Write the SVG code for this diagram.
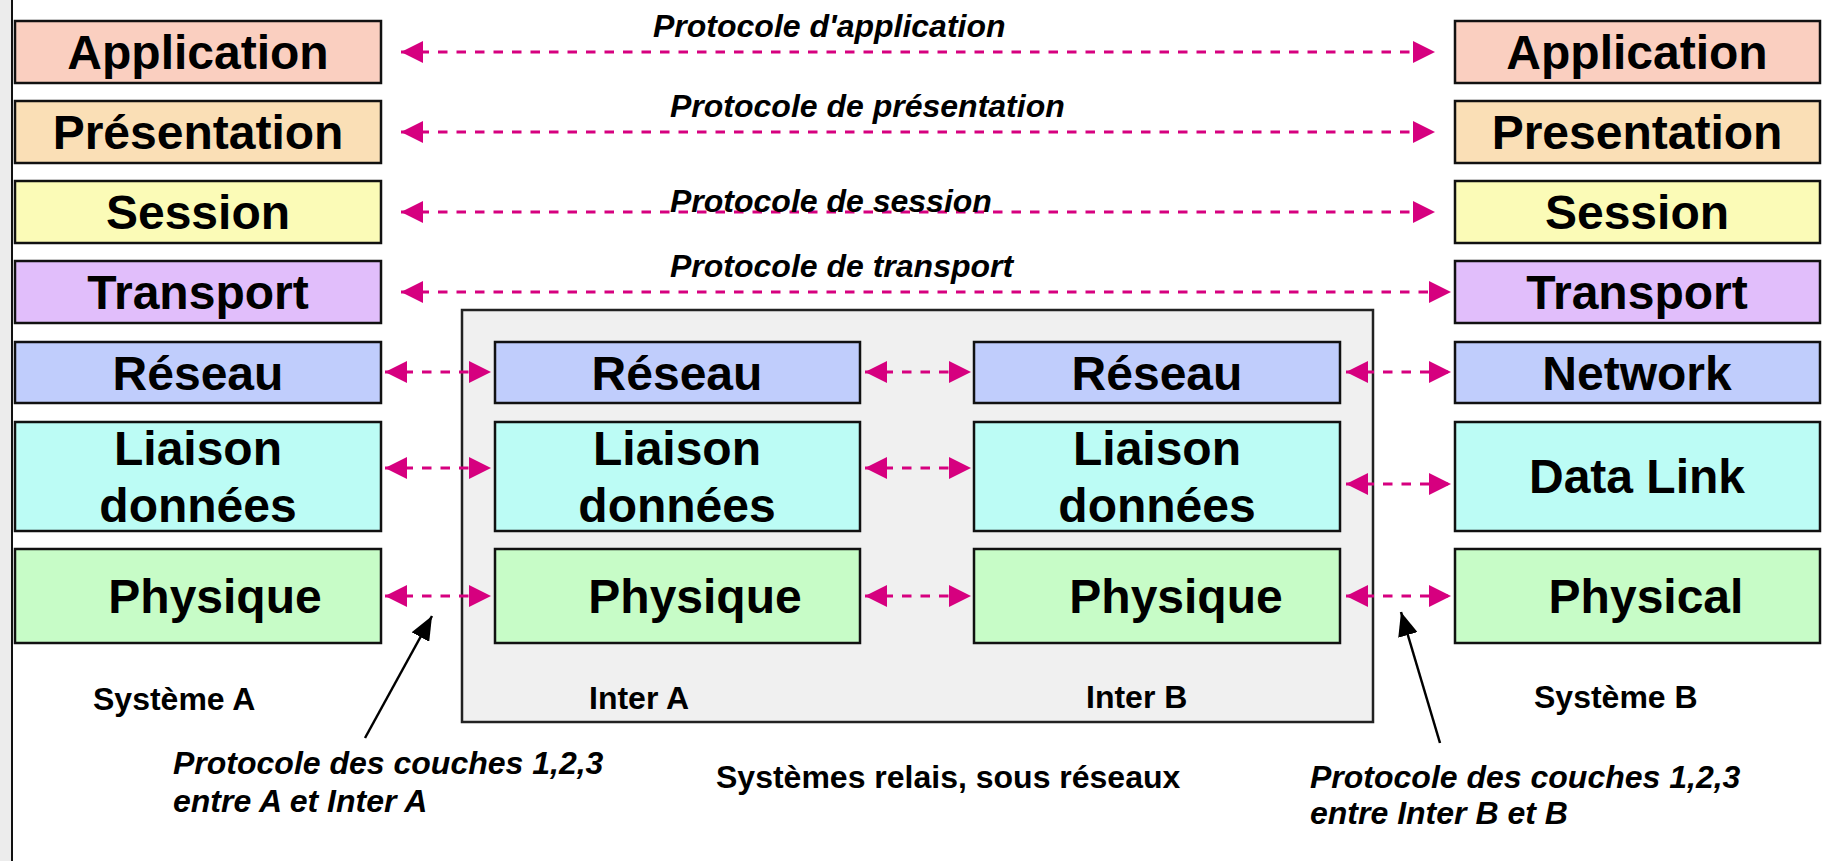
<svg xmlns="http://www.w3.org/2000/svg" width="1822" height="861" viewBox="0 0 1822 861">
<defs>
<style>
.box{stroke:#111;stroke-width:2.5}
.app{fill:#FACFC0}.pre{fill:#FADFB6}.ses{fill:#FBFBB7}.tra{fill:#E1BEFB}.res{fill:#C0CDFC}.lia{fill:#BCFCF5}.phy{fill:#C7FCC7}
.lbl{font-family:"Liberation Sans",Arial,sans-serif;font-weight:bold;font-size:48px;fill:#000;text-anchor:middle}
.proto{font-family:"Liberation Sans",Arial,sans-serif;font-weight:bold;font-style:italic;font-size:32px;fill:#000}
.cap{font-family:"Liberation Sans",Arial,sans-serif;font-weight:bold;font-size:32px;fill:#000}
.dash{stroke:#D6007F;stroke-width:3;stroke-dasharray:9.5 9;fill:none;marker-start:url(#mh);marker-end:url(#mh)}
.ptr{stroke:#000;stroke-width:2.5;fill:none;marker-end:url(#bh)}
</style>
<marker id="mh" markerUnits="userSpaceOnUse" viewBox="0 0 22 22" refX="22" refY="11" markerWidth="22" markerHeight="22" orient="auto-start-reverse">
<path d="M0,0 L22,11 L0,22 Z" fill="#D6007F"/>
</marker>
<marker id="bh" markerUnits="userSpaceOnUse" viewBox="0 0 24 20" refX="24" refY="10" markerWidth="24" markerHeight="20" orient="auto">
<path d="M0,0 L24,10 L0,20 Z" fill="#000"/>
</marker>
</defs>
<rect x="0" y="0" width="1822" height="861" fill="#FFFFFF"/>
<rect x="0" y="0" width="11" height="861" fill="#ECECEC"/>
<line x1="12" y1="0" x2="12" y2="861" stroke="#111" stroke-width="2"/>

<g id="relay-area">
<rect x="462" y="310" width="911" height="412" fill="#F0F0F0" stroke="#222" stroke-width="2.5"/>
</g>

<g id="connectors">
<line class="dash" x1="401" y1="52" x2="1435" y2="52"/>
<line class="dash" x1="401" y1="132" x2="1435" y2="132"/>
<line class="dash" x1="401" y1="212" x2="1435" y2="212"/>
<line class="dash" x1="401" y1="292" x2="1451" y2="292"/>
<line class="dash" x1="385" y1="372" x2="491" y2="372"/>
<line class="dash" x1="385" y1="468" x2="491" y2="468"/>
<line class="dash" x1="385" y1="596" x2="491" y2="596"/>
<line class="dash" x1="865" y1="372" x2="971" y2="372"/>
<line class="dash" x1="865" y1="468" x2="971" y2="468"/>
<line class="dash" x1="865" y1="596" x2="971" y2="596"/>
<line class="dash" x1="1346" y1="372" x2="1451" y2="372"/>
<line class="dash" x1="1346" y1="484" x2="1451" y2="484"/>
<line class="dash" x1="1346" y1="596" x2="1451" y2="596"/>
<line class="ptr" x1="365" y1="738" x2="432" y2="616"/>
<line class="ptr" x1="1440" y1="743" x2="1401" y2="612"/>
</g>

<g id="a-application"><rect class="box app" x="15" y="21" width="366" height="62"/><text class="lbl" x="198" y="69">Application</text></g>
<g id="a-presentation"><rect class="box pre" x="15" y="101" width="366" height="62"/><text class="lbl" x="198" y="149">Présentation</text></g>
<g id="a-session"><rect class="box ses" x="15" y="181" width="366" height="62"/><text class="lbl" x="198" y="229">Session</text></g>
<g id="a-transport"><rect class="box tra" x="15" y="261" width="366" height="62"/><text class="lbl" x="198" y="309">Transport</text></g>
<g id="a-reseau"><rect class="box res" x="15" y="342" width="366" height="61"/><text class="lbl" x="198" y="390">Réseau</text></g>
<g id="a-liaison"><rect class="box lia" x="15" y="422" width="366" height="109"/><text class="lbl" x="198" y="465">Liaison</text><text class="lbl" x="198" y="522">données</text></g>
<g id="a-physique"><rect class="box phy" x="15" y="549" width="366" height="94"/><text class="lbl" x="215" y="613">Physique</text></g>

<g id="ia-reseau"><rect class="box res" x="495" y="342" width="365" height="61"/><text class="lbl" x="677" y="390">Réseau</text></g>
<g id="ia-liaison"><rect class="box lia" x="495" y="422" width="365" height="109"/><text class="lbl" x="677" y="465">Liaison</text><text class="lbl" x="677" y="522">données</text></g>
<g id="ia-physique"><rect class="box phy" x="495" y="549" width="365" height="94"/><text class="lbl" x="695" y="613">Physique</text></g>

<g id="ib-reseau"><rect class="box res" x="974" y="342" width="366" height="61"/><text class="lbl" x="1157" y="390">Réseau</text></g>
<g id="ib-liaison"><rect class="box lia" x="974" y="422" width="366" height="109"/><text class="lbl" x="1157" y="465">Liaison</text><text class="lbl" x="1157" y="522">données</text></g>
<g id="ib-physique"><rect class="box phy" x="974" y="549" width="366" height="94"/><text class="lbl" x="1176" y="613">Physique</text></g>

<g id="b-application"><rect class="box app" x="1455" y="21" width="365" height="62"/><text class="lbl" x="1637" y="69">Application</text></g>
<g id="b-presentation"><rect class="box pre" x="1455" y="101" width="365" height="62"/><text class="lbl" x="1637" y="149">Presentation</text></g>
<g id="b-session"><rect class="box ses" x="1455" y="181" width="365" height="62"/><text class="lbl" x="1637" y="229">Session</text></g>
<g id="b-transport"><rect class="box tra" x="1455" y="261" width="365" height="62"/><text class="lbl" x="1637" y="309">Transport</text></g>
<g id="b-network"><rect class="box res" x="1455" y="342" width="365" height="61"/><text class="lbl" x="1637" y="390">Network</text></g>
<g id="b-datalink"><rect class="box lia" x="1455" y="422" width="365" height="109"/><text class="lbl" x="1637" y="493">Data Link</text></g>
<g id="b-physical"><rect class="box phy" x="1455" y="549" width="365" height="94"/><text class="lbl" x="1646" y="613">Physical</text></g>

<g id="labels">
<text class="proto" x="653" y="37">Protocole d'application</text>
<text class="proto" x="670" y="117">Protocole de présentation</text>
<text class="proto" x="670" y="212">Protocole de session</text>
<text class="proto" x="670" y="277">Protocole de transport</text>
<text class="cap" x="93" y="710">Système A</text>
<text class="cap" x="589" y="709">Inter A</text>
<text class="cap" x="1086" y="708">Inter B</text>
<text class="cap" x="1534" y="708">Système B</text>
<text class="cap" x="716" y="788">Systèmes relais, sous réseaux</text>
<text class="proto" x="173" y="774">Protocole des couches 1,2,3</text>
<text class="proto" x="173" y="812">entre A et Inter A</text>
<text class="proto" x="1310" y="788">Protocole des couches 1,2,3</text>
<text class="proto" x="1310" y="824">entre Inter B et B</text>
</g>
</svg>
